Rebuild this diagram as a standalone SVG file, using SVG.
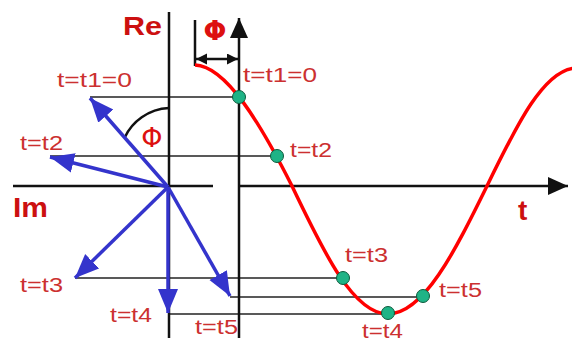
<svg xmlns="http://www.w3.org/2000/svg" width="572" height="342" viewBox="0 0 572 342">
<style>
.ax{stroke:#111;stroke-width:2.5;fill:none}
.gl{stroke:#222;stroke-width:1.5;fill:none}
.vec{stroke:#3434cc;stroke-width:3.5;fill:none;marker-end:url(#bh)}
.dot{fill:#1fb386;stroke:#0d5a3c;stroke-width:1}
.lb{font-family:"Liberation Sans",Arial,sans-serif;font-size:20px;fill:#cc3030}
.big{font-family:"Liberation Sans",Arial,sans-serif;font-weight:bold;fill:#cc1010}
.phi{font-family:"DejaVu Sans","Liberation Sans",sans-serif;font-size:27px;fill:#dd1010}
</style>
<defs>
<marker id="bh" markerUnits="userSpaceOnUse" markerWidth="26" markerHeight="22" refX="24" refY="10" orient="auto"><path d="M0,0 L24,10 L0,20 z" fill="#3434cc"/></marker>
<marker id="kh" markerUnits="userSpaceOnUse" markerWidth="22" markerHeight="20" refX="20" refY="9" orient="auto"><path d="M0,0 L20,9 L0,18 z" fill="#111"/></marker>
<marker id="ks" markerUnits="userSpaceOnUse" markerWidth="12" markerHeight="12" refX="11" refY="5.5" orient="auto-start-reverse"><path d="M0,0 L11,5.5 L0,11 z" fill="#111"/></marker>
</defs>
<rect width="572" height="342" fill="#fff"/>
<g id="guides">
<line class="gl" x1="90" y1="97" x2="239" y2="97"/>
<line class="gl" x1="50" y1="156" x2="277" y2="156"/>
<line class="gl" x1="75" y1="278" x2="343" y2="278"/>
<line class="gl" x1="230" y1="297" x2="423" y2="297"/>
<line class="gl" x1="169" y1="314" x2="388" y2="314"/>
</g>
<g id="axes">
<line class="ax" x1="169" y1="12" x2="169" y2="338"/>
<line class="ax" x1="13" y1="186" x2="213" y2="186"/>
<line class="ax" x1="239" y1="338" x2="239" y2="18" marker-end="url(#kh)"/>
<line class="ax" x1="239" y1="186" x2="568" y2="186" marker-end="url(#kh)"/>
<line class="ax" x1="195" y1="20" x2="195" y2="66"/>
<line class="ax" x1="196" y1="59" x2="238" y2="59" marker-start="url(#ks)" marker-end="url(#ks)"/>
<path class="ax" d="M125,137 C132,122 148,109 169,108"/>
</g>
<g id="curve">
<path d="M195,65 C226,66 260.7,124 292,186 C323.3,251.6 353.2,314 388,314 C423.8,314 454.7,251.6 487,186 C516.4,125.5 544.4,68 577,68" stroke="#ff0000" stroke-width="3.5" fill="none"/>
</g>
<g id="connectors">
<line class="vec" x1="168" y1="187" x2="90" y2="98"/>
<line class="vec" x1="168" y1="187" x2="50" y2="157"/>
<line class="vec" x1="168" y1="187" x2="75" y2="278"/>
<line class="vec" x1="168" y1="187" x2="168" y2="313"/>
<line class="vec" x1="168" y1="187" x2="230" y2="296"/>
</g>
<g id="dots">
<circle class="dot" cx="239" cy="97" r="6.5"/>
<circle class="dot" cx="277" cy="156" r="6.5"/>
<circle class="dot" cx="343" cy="278" r="6.5"/>
<circle class="dot" cx="388" cy="313" r="6.5"/>
<circle class="dot" cx="423" cy="296" r="6.5"/>
</g>
<g id="labels">
<text class="big" x="123" y="35" font-size="26" textLength="39" lengthAdjust="spacingAndGlyphs">Re</text>
<text class="big" x="13" y="217" font-size="28" textLength="35" lengthAdjust="spacingAndGlyphs">Im</text>
<text class="big" x="518" y="220" font-size="28">t</text>
<text class="phi" x="215" y="40" text-anchor="middle" font-weight="bold">Φ</text>
<text class="phi" x="152" y="147" text-anchor="middle">Φ</text>
<text class="lb" x="57" y="87" textLength="75" lengthAdjust="spacingAndGlyphs">t=t1=0</text>
<text class="lb" x="243" y="82" textLength="74" lengthAdjust="spacingAndGlyphs">t=t1=0</text>
<text class="lb" x="20" y="150" textLength="43" lengthAdjust="spacingAndGlyphs">t=t2</text>
<text class="lb" x="290" y="157" textLength="42" lengthAdjust="spacingAndGlyphs">t=t2</text>
<text class="lb" x="20" y="292" textLength="43" lengthAdjust="spacingAndGlyphs">t=t3</text>
<text class="lb" x="345" y="262" textLength="43" lengthAdjust="spacingAndGlyphs">t=t3</text>
<text class="lb" x="110" y="322" textLength="42" lengthAdjust="spacingAndGlyphs">t=t4</text>
<text class="lb" x="362" y="338" textLength="41" lengthAdjust="spacingAndGlyphs">t=t4</text>
<text class="lb" x="195" y="334" textLength="43" lengthAdjust="spacingAndGlyphs">t=t5</text>
<text class="lb" x="439" y="297" textLength="43" lengthAdjust="spacingAndGlyphs">t=t5</text>
</g>
</svg>
